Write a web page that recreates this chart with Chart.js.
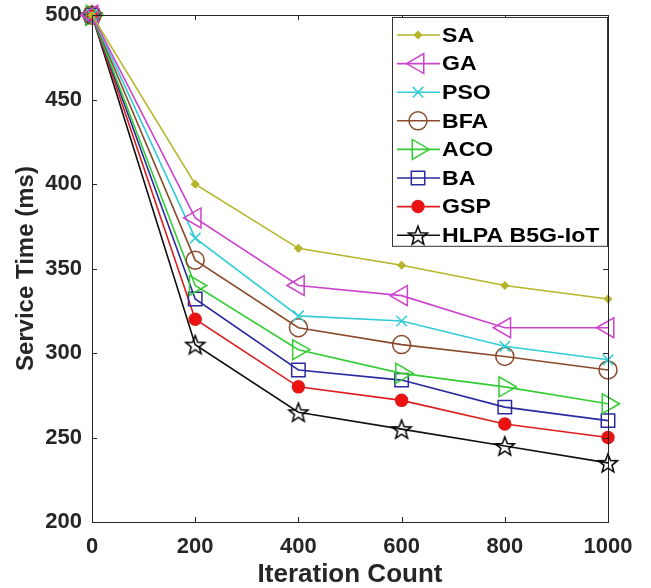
<!DOCTYPE html>
<html>
<head>
<meta charset="utf-8">
<script src="https://cdn.jsdelivr.net/npm/chart.js@4/dist/chart.umd.min.js"></script>
<style>
  html, body { margin: 0; padding: 0; background: #fff; }
  #wrap { width: 651px; height: 588px; position: relative; }
</style>
</head>
<body>
<div id="wrap"><canvas id="chart" width="651" height="588"></canvas></div>
<script>
// --- data ---
const iterations = [0, 200, 400, 600, 800, 1000];
const saValues   = [500, 400, 362, 352, 340, 332];
const gaValues   = [500, 380, 340, 334, 315, 315];
const psoValues  = [500, 368, 322, 319, 304, 296];
const bfaValues  = [500, 355, 315, 305, 298, 290];
const acoValues  = [500, 340, 302, 288, 280, 270];
const baValues   = [500, 332, 290, 284, 268, 260];
const gspValues  = [500, 320, 280, 272, 258, 250];
const hlpaValues = [500, 305, 265, 255, 245, 235];
const seriesNames = ['SA', 'GA', 'PSO', 'BFA', 'ACO', 'BA', 'GSP', 'HLPA B5G-IoT'];
const yTicks = [200, 250, 300, 350, 400, 450, 500];

const FONT = "'Liberation Sans', Arial, sans-serif";
const AXIS_COLOR = '#262626';

// 5-point star marker (hollow)
function makeStar(r) {
    const c = document.createElement('canvas');
    const s = Math.ceil(r * 2 + 4);
    c.width = s; c.height = s;
    const g = c.getContext('2d');
    g.translate(s / 2, s / 2 + 1);
    g.beginPath();
    for (let i = 0; i < 10; i++) {
        const rr = i % 2 === 0 ? r : r * 0.42;
        const a = -Math.PI / 2 + i * Math.PI / 5;
        const px = rr * Math.cos(a), py = rr * Math.sin(a);
        if (i === 0) g.moveTo(px, py); else g.lineTo(px, py);
    }
    g.closePath();
    g.lineWidth = 1.5;
    g.strokeStyle = '#000';
    g.stroke();
    return c;
}
const starImg = makeStar(10);

const styles = [
    { color: '#b5b52a', fill: '#b5b52a', pointStyle: 'rectRot', radius: 3.5, rotation: 0 },
    { color: '#cc44cc', fill: 'rgba(0,0,0,0)', pointStyle: 'triangle', radius: 11.5, rotation: -90 },
    { color: '#33ccd6', fill: 'rgba(0,0,0,0)', pointStyle: 'crossRot', radius: 7.5, rotation: 0 },
    { color: '#8b4a2b', fill: 'rgba(0,0,0,0)', pointStyle: 'circle', radius: 9, rotation: 0 },
    { color: '#33cc33', fill: 'rgba(0,0,0,0)', pointStyle: 'triangle', radius: 11.5, rotation: 90 },
    { color: '#2a2aa0', fill: 'rgba(0,0,0,0)', pointStyle: 'rect', radius: 9.5, rotation: 0 },
    { color: '#dd1c1c', fill: '#ee1111', pointStyle: 'circle', radius: 6, rotation: 0 },
    { color: '#111111', fill: 'rgba(0,0,0,0)', pointStyle: starImg, radius: 10, rotation: 0 }
];
const allValues = [saValues, gaValues, psoValues, bfaValues, acoValues, baValues, gspValues, hlpaValues];

const datasets = allValues.map((vals, i) => ({
    label: seriesNames[i],
    data: vals.map((v, j) => ({ x: iterations[j], y: v })),
    borderColor: styles[i].color,
    backgroundColor: styles[i].fill,
    pointBorderColor: styles[i].color,
    pointBackgroundColor: styles[i].fill,
    pointStyle: styles[i].pointStyle,
    pointRadius: styles[i].radius,
    pointRotation: styles[i].rotation,
    pointBorderWidth: 1.5,
    borderWidth: 1.6,
    tension: 0,
    clip: false
}));

// box around the plot with inward ticks, like the original
const boxPlugin = {
    id: 'boxAxes',
    afterDatasetsDraw(chart) {
        const { ctx, chartArea: a, scales } = chart;
        ctx.save();
        ctx.strokeStyle = AXIS_COLOR;
        ctx.lineWidth = 1;
        ctx.strokeRect(Math.round(a.left) + 0.5, Math.round(a.top) + 0.5,
            Math.round(a.right - a.left), Math.round(a.bottom - a.top));
        ctx.beginPath();
        iterations.forEach(v => {
            const x = Math.round(scales.x.getPixelForValue(v)) + 0.5;
            ctx.moveTo(x, a.bottom); ctx.lineTo(x, a.bottom - 5);
            ctx.moveTo(x, a.top); ctx.lineTo(x, a.top + 5);
        });
        yTicks.forEach(v => {
            const y = Math.round(scales.y.getPixelForValue(v)) + 0.5;
            ctx.moveTo(a.left, y); ctx.lineTo(a.left + 5, y);
            ctx.moveTo(a.right, y); ctx.lineTo(a.right - 5, y);
        });
        ctx.stroke();
        ctx.restore();
    }
};

// legend box in the upper right of the plot
const legendPlugin = {
    id: 'boxLegend',
    afterDraw(chart) {
        const { ctx, chartArea: a } = chart;
        const right = Math.round(a.right) - 1, left = right - 215, top = 17, rowH = 28.6;
        const bottom = top + rowH * seriesNames.length;
        const lineX0 = left + 5, lineX1 = left + 48, markX = left + 26, textX = left + 50;
        ctx.save();
        ctx.fillStyle = '#fff';
        ctx.fillRect(left, top, right - left, bottom - top);
        ctx.strokeStyle = '#333';
        ctx.lineWidth = 1;
        ctx.strokeRect(left + 0.5, top + 0.5, right - left, bottom - top);
        seriesNames.forEach((name, i) => {
            const y = top + 18 + i * rowH;
            const st = styles[i];
            ctx.strokeStyle = st.color;
            ctx.lineWidth = 1.6;
            ctx.beginPath();
            ctx.moveTo(lineX0, y); ctx.lineTo(lineX1, y);
            ctx.stroke();
            ctx.fillStyle = st.fill;
            ctx.lineWidth = 1.5;
            Chart.helpers.drawPoint(ctx, {
                pointStyle: st.pointStyle,
                radius: st.radius,
                rotation: st.rotation,
                borderWidth: 1.5
            }, markX, y);
            ctx.save();
            ctx.translate(textX, y + 1);
            ctx.scale(1.1, 1);
            ctx.fillStyle = '#000';
            ctx.font = 'bold 21px ' + FONT;
            ctx.textBaseline = 'middle';
            ctx.textAlign = 'left';
            ctx.fillText(name, 0, 0);
            ctx.restore();
        });
        ctx.restore();
    }
};

new Chart(document.getElementById('chart'), {
    type: 'line',
    data: { datasets },
    options: {
        responsive: false,
        animation: false,
        layout: { padding: { left: 0, top: 8, right: 43, bottom: 0 } },
        plugins: {
            legend: { display: false },
            tooltip: { enabled: false }
        },
        scales: {
            x: {
                type: 'linear',
                min: 0, max: 1000,
                afterBuildTicks: s => { s.ticks = iterations.map(v => ({ value: v })); },
                afterFit: s => { s.height = 66; },
                grid: { display: false },
                border: { display: false },
                ticks: { color: AXIS_COLOR, font: { family: FONT, size: 22, weight: 'bold' }, padding: 4, maxRotation: 0,
                         callback: v => String(v) },
                title: { display: true, text: 'Iteration Count', color: AXIS_COLOR,
                         font: { family: FONT, size: 26, weight: 'bold', lineHeight: 1.0 }, padding: { top: 0, bottom: 0 } }
            },
            y: {
                min: 200, max: 500,
                afterBuildTicks: s => { s.ticks = yTicks.map(v => ({ value: v })); },
                afterFit: s => { s.width = 92; },
                grid: { display: false },
                border: { display: false },
                ticks: { color: AXIS_COLOR, font: { family: FONT, size: 22, weight: 'bold' }, padding: 2,
                         callback: v => String(v) },
                title: { display: true, text: 'Service Time (ms)', color: AXIS_COLOR,
                         font: { family: FONT, size: 24, weight: 'bold' }, padding: { top: 12, bottom: 4 } }
            }
        }
    },
    plugins: [boxPlugin, legendPlugin]
});
</script>
</body>
</html>
